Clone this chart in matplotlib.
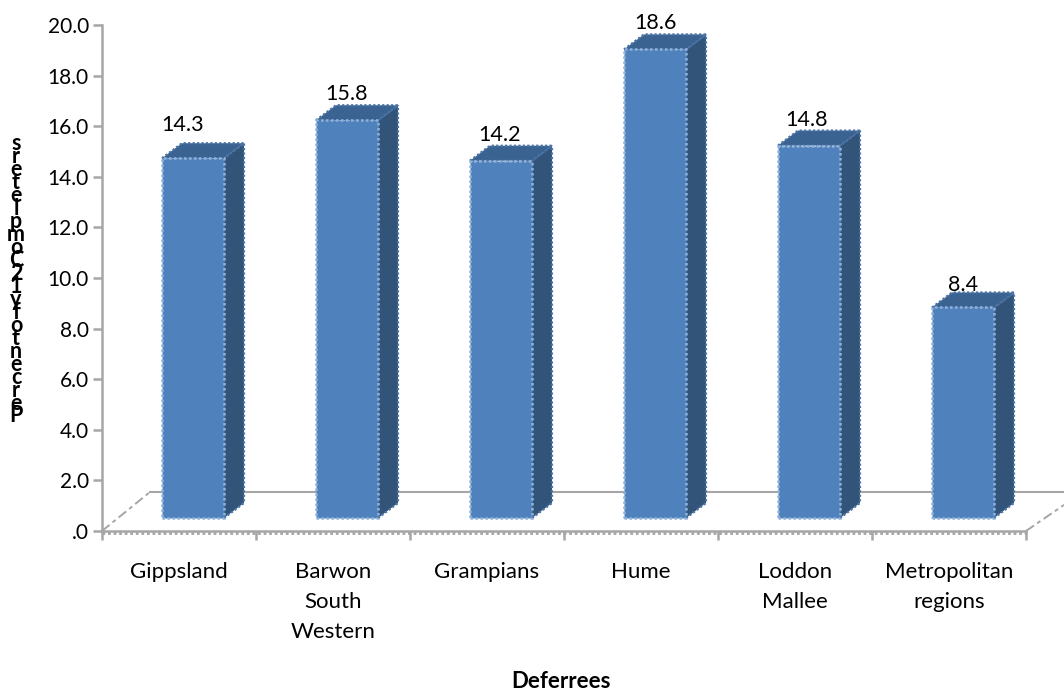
import matplotlib
matplotlib.use('Agg')
import matplotlib.pyplot as plt
from matplotlib.patches import Polygon
from matplotlib.ticker import FixedLocator

plt.rcParams['font.family'] = ['Lato', 'DejaVu Sans']

# data
categories = ['Gippsland', 'Barwon\nSouth\nWestern', 'Grampians', 'Hume', 'Loddon\nMallee', 'Metropolitan\nregions']
values = [14.3, 15.8, 14.2, 18.6, 14.8, 8.4]
y_ticks = [0, 2, 4, 6, 8, 10, 12, 14, 16, 18, 20]
y_tick_labels = ['.0', '2.0', '4.0', '6.0', '8.0', '10.0', '12.0', '14.0', '16.0', '18.0', '20.0']
y_label_chars = list('Percentofy12Completers')
x_title = 'Deferrees'

W, H = 1064, 691
fig = plt.figure(figsize=(W / 100, H / 100), dpi=100)
# plot box in pixels
ax = fig.add_axes([102 / W, 1 - 531 / H, 924 / W, 506 / H])
ax.set_xlim(0, len(categories))
ax.set_ylim(0, 20)

px_x = len(categories) / 924.0
px_y = 20 / 506.0

FRONT = '#4F81BD'
SIDE = '#325479'
TOP = '#3B6392'
GREY = '#A6A6A6'

# fake 3d offsets
base_lift = 13 * px_y
top_trim = 2 * px_y
depth_x = 20 * px_x
depth_y = 15 * px_y
bar_w = 62 * px_x
bar_shift = 14 * px_x


def draw_bar(i, v):
    x0 = i + 0.5 + bar_shift - bar_w / 2
    x1 = x0 + bar_w
    y0 = base_lift
    y1 = v + base_lift - top_trim
    side = [(x1, y0), (x1 + depth_x, y0 + depth_y), (x1 + depth_x, y1 + depth_y), (x1, y1)]
    top = [(x0, y1), (x0 + depth_x, y1 + depth_y), (x1 + depth_x, y1 + depth_y), (x1, y1)]
    front = [(x0, y0), (x1, y0), (x1, y1), (x0, y1)]
    ax.add_patch(Polygon(side, closed=True, fc=SIDE, ec='#4A74A6', lw=1.6, ls=(0, (1, 1)), zorder=3, clip_on=False))
    ax.add_patch(Polygon(top, closed=True, fc=TOP, ec='#4A74A6', lw=1.6, ls=(0, (1, 1)), zorder=3, clip_on=False))
    ax.add_patch(Polygon(front, closed=True, fc=FRONT, ec='#8FB2DC', lw=1.8, ls=(0, (1, 1)), zorder=4, clip_on=False))


# floor
floor_y = 39 * px_y
ax.plot([48 * px_x, len(categories) + 38 * px_x], [floor_y, floor_y], color=GREY, lw=1.5, zorder=1, clip_on=False)
ax.plot([0, 48 * px_x], [0, floor_y], color=GREY, lw=1.4, ls=(0, (5, 2, 2, 2)), zorder=1, clip_on=False)
ax.plot([len(categories), len(categories) + 38 * px_x], [0, floor_y * 0.67], color=GREY, lw=1.4, ls=(0, (5, 2, 2, 2)), zorder=1, clip_on=False)

for i, v in enumerate(values):
    draw_bar(i, v)

label_y = [125, 94, 135, 23, 120, 285]
label_x = [183, 347, 500, 655, 807, 963]
for v, lx, ly in zip(values, label_x, label_y):
    ax.text(lx / W, 1 - ly / H, '%.1f' % v, transform=fig.transFigure, ha='center', va='center', fontsize=15.5, color='black', zorder=6)

# axes
for s in ['top', 'right']:
    ax.spines[s].set_visible(False)
for s in ['left', 'bottom']:
    ax.spines[s].set_color(GREY)
    ax.spines[s].set_linewidth(1.8)
ax.plot([0, len(categories)], [-2 * px_y, -2 * px_y], color=GREY, lw=2, ls=(0, (1, 1)), clip_on=False, zorder=2)

ax.set_yticks(y_ticks)
ax.set_yticklabels(y_tick_labels, fontsize=15)
ax.tick_params(axis='y', length=6.5, width=1.8, color=GREY, direction='out', pad=3)
ax.set_xticks(range(len(categories) + 1))
ax.set_xticklabels([])
ax.xaxis.set_minor_locator(FixedLocator([i + 0.5 for i in range(len(categories))]))
ax.set_xticklabels(categories, minor=True, fontsize=16, linespacing=1.63)
ax.tick_params(axis='x', which='major', length=6.5, width=1.8, color=GREY)
ax.tick_params(axis='x', which='minor', length=0, pad=22)
for t in ax.xaxis.get_minorticklabels():
    t.set_verticalalignment('top')

# stacked y title, one letter per row
n = len(y_label_chars)
for k, ch in enumerate(y_label_chars):
    yy = 416 - k * (416 - 144) / (n - 1)
    fig.text(16 / W, 1 - yy / H, ch, ha='center', va='center', fontsize=15.5, fontweight='bold')

fig.text(561 / W, 1 - 682 / H, x_title, ha='center', va='center', fontsize=16, fontweight='bold')

fig.savefig('out.png', dpi=100)
